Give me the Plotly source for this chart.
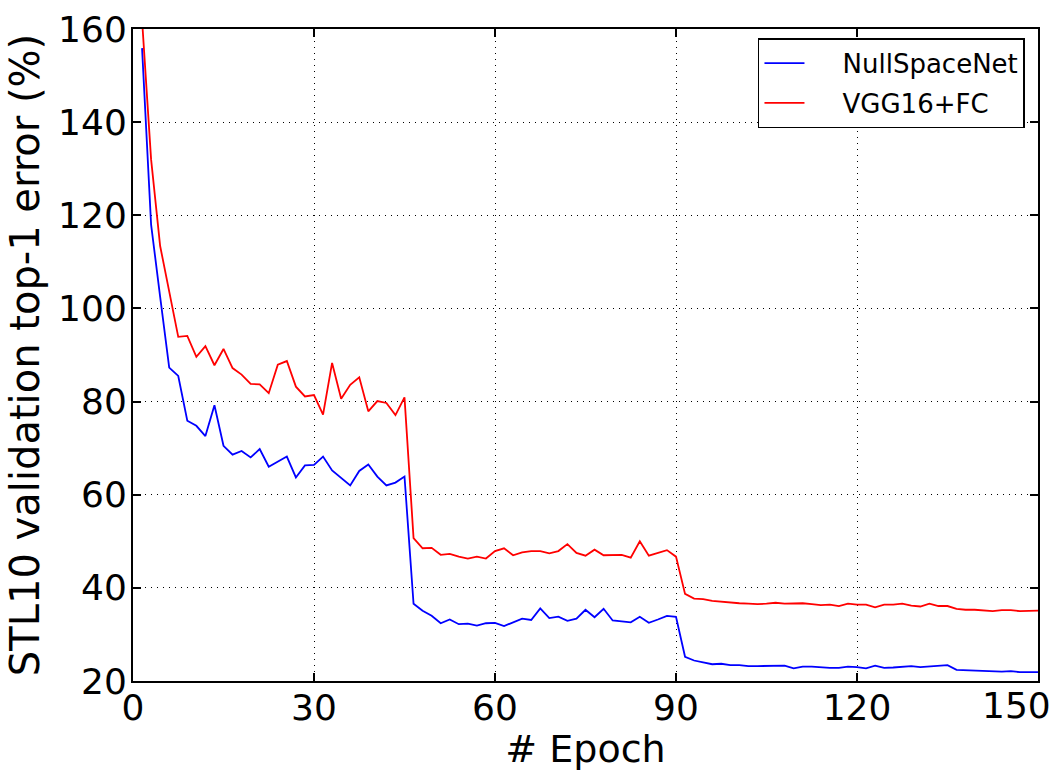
import plotly.graph_objects as go

# Epoch positions (one point every 1.5 epochs, 100 points)
epochs = [1.5 * i for i in range(1, 101)]

nullspacenet = [
    155.9, 118.0, 102.5, 87.3, 85.5, 75.9, 74.8, 72.6, 79.2, 70.5,
    68.6, 69.4, 68.0, 69.8, 66.0, 67.1, 68.2, 63.7, 66.3, 66.4,
    68.2, 65.2, 63.6, 62.0, 65.1, 66.5, 63.9, 62.0, 62.6, 63.9,
    36.6, 35.1, 34.0, 32.4, 33.2, 32.2, 32.3, 31.9, 32.4, 32.5,
    31.8, 32.6, 33.4, 33.1, 35.6, 33.5, 33.8, 32.9, 33.4, 35.3,
    33.7, 35.5, 33.0, 32.8, 32.6, 33.8, 32.5, 33.2, 34.0, 33.8,
    25.2, 24.4, 24.0, 23.6, 23.7, 23.4, 23.4, 23.2, 23.2, 23.2,
    23.2, 23.3, 22.7, 23.1, 23.1, 22.9, 22.8, 22.8, 23.1, 23.0,
    22.7, 23.3, 22.8, 22.9, 23.1, 23.2, 23.0, 23.1, 23.2, 23.4,
    22.4, 22.3, 22.3, 22.2, 22.1, 22.0, 22.1, 21.9, 21.9, 21.9,
]

vgg16_fc = [
    162.0, 132.0, 113.4, 103.5, 93.9, 94.1, 89.6, 91.9, 87.8, 91.3,
    87.2, 85.8, 83.8, 83.7, 81.8, 87.9, 88.7, 83.2, 81.1, 81.4,
    77.2, 88.3, 80.6, 83.6, 85.2, 77.9, 80.1, 79.7, 77.1, 80.9,
    50.7, 48.5, 48.6, 47.1, 47.3, 46.7, 46.3, 46.7, 46.3, 47.9,
    48.5, 47.0, 47.6, 47.9, 47.9, 47.4, 47.9, 49.4, 47.5, 46.9,
    48.2, 47.0, 47.1, 47.1, 46.5, 50.0, 46.9, 47.5, 48.1, 46.7,
    38.7, 37.7, 37.6, 37.2, 37.0, 36.8, 36.7, 36.6, 36.5, 36.6,
    36.8, 36.6, 36.6, 36.7, 36.5, 36.3, 36.4, 36.1, 36.6, 36.4,
    36.4, 35.8, 36.4, 36.4, 36.6, 36.2, 36.0, 36.6, 36.1, 36.1,
    35.5, 35.3, 35.3, 35.2, 35.0, 35.2, 35.2, 35.0, 35.0, 35.1,
]

x_ticks = [0, 30, 60, 90, 120, 150]
x_tick_labels = ["0", "30", "60", "90", "120", "150"]
y_ticks = [20, 40, 60, 80, 100, 120, 140, 160]
series_names = ["NullSpaceNet", "VGG16+FC"]

FONT = "DejaVu Sans"
PAD = "&nbsp;" * 4

# the last x label is drawn as an annotation, nudged left so it stays inside the page
x_tick_text = x_tick_labels[:-1] + [""]

fig = go.Figure()
fig.add_trace(go.Scatter(x=epochs, y=nullspacenet, mode="lines", name=PAD + series_names[0],
                         legendgroup="a", line=dict(color="#0000ff", width=1.8)))
fig.add_trace(go.Scatter(x=epochs, y=vgg16_fc, mode="lines", name=PAD + series_names[1],
                         legendgroup="b", line=dict(color="#ff0000", width=1.8)))

axis_common = dict(
    showline=True, linecolor="black", linewidth=2, mirror="allticks",
    ticks="inside", ticklen=8, tickwidth=1.5, tickcolor="black",
    showgrid=True, gridcolor="black", gridwidth=1, griddash="1px,5px",
    zeroline=False, tickfont=dict(family=FONT, size=36, color="black"),
    automargin=False,
)

fig.update_xaxes(range=[0, 150], tickvals=x_ticks, ticktext=x_tick_text,
                 ticklabelstandoff=-6,
                 title=dict(text="# Epoch", font=dict(family=FONT, size=38, color="black"), standoff=4),
                 **axis_common)
fig.update_yaxes(range=[20, 160], tickvals=y_ticks, ticklabelstandoff=-3,
                 title=dict(text="STL10 validation top-1 error (%)", font=dict(family=FONT, size=40, color="black"), standoff=6),
                 **axis_common)

fig.add_annotation(x=x_ticks[-1], xref="x", y=0, yref="paper",
                   text=x_tick_labels[-1], showarrow=False,
                   xanchor="center", yanchor="middle", xshift=-22, yshift=-24,
                   font=dict(family=FONT, size=36, color="black"))

fig.update_layout(
    width=1053, height=771,
    margin=dict(l=133, r=15, t=29, b=90),
    plot_bgcolor="white", paper_bgcolor="white",
    font=dict(family=FONT, color="black"),
    showlegend=True,
    legend=dict(
        x=0.9856, y=0.986, xanchor="right", yanchor="top",
        bgcolor="white", bordercolor="black", borderwidth=1.5,
        font=dict(family=FONT, size=26, color="black"),
        itemwidth=40, tracegroupgap=3,
    ),
)

fig.write_html("out.html")
